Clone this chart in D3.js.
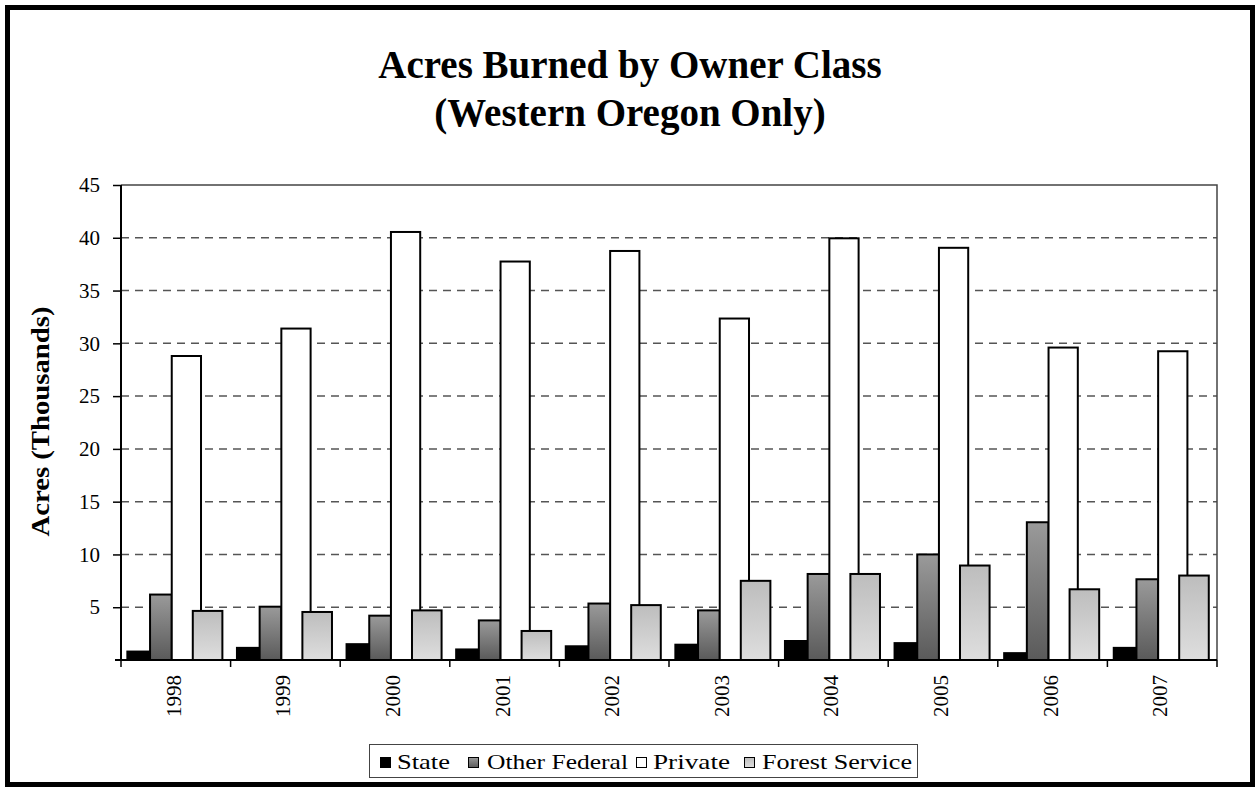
<!DOCTYPE html>
<html lang="en">
<head>
    <meta charset="utf-8">
    <title>Acres Burned by Owner Class</title>
    <style>
        html,body{
            margin:0;
            background:#fff;
            overflow:hidden;
        }
        svg text{
            font-family:"Liberation Serif","Times New Roman",serif;
            fill:#000;
        }
    </style>
</head>
<body>
    <div id="chart"></div>

    <script src="https://cdn.jsdelivr.net/npm/d3@7"></script>
    <script>
    // data (thousands of acres)
    const years = ["1998","1999","2000","2001","2002","2003","2004","2005","2006","2007"];
    const seriesNames = ["State","Other Federal","Private","Forest Service"];
    const state        = [0.8, 1.15, 1.5, 1.0, 1.3, 1.45, 1.8, 1.6, 0.65, 1.15];
    const otherFederal = [6.2, 5.05, 4.2, 3.75, 5.35, 4.7, 8.15, 10.0, 13.05, 7.65];
    const privateLand  = [28.8, 31.4, 40.55, 37.75, 38.75, 32.35, 39.95, 39.05, 29.6, 29.25];
    const forestSvc    = [4.65, 4.55, 4.7, 2.75, 5.2, 7.5, 8.15, 8.95, 6.7, 8.0];
    const yTicks = [0,5,10,15,20,25,30,35,40,45];

    const values = [state, otherFederal, privateLand, forestSvc];

    const width = 1258, height = 789;
    const margin = {left:121, right:41, top:185, bottom:129};

    const svg = d3.select("#chart").append("svg")
        .attr("width", width)
        .attr("height", height);

    // gradients for the shaded bars
    const defs = svg.append("defs");
    function grad(id, top, bottom){
        const g = defs.append("linearGradient").attr("id", id)
            .attr("x1", 0).attr("y1", 0).attr("x2", 0).attr("y2", 1);
        g.append("stop").attr("offset", "0%").attr("stop-color", top);
        g.append("stop").attr("offset", "100%").attr("stop-color", bottom);
    }
    grad("gFed", "#9a9a9a", "#5a5a5a");
    grad("gForest", "#bdbdbd", "#dedede");

    const fills = ["#000", "url(#gFed)", "#fff", "url(#gForest)"];
    // where each bar sits inside its year slot (fraction of band)
    const slot = [[0.058, 0.265], [0.265, 0.463], [0.463, 0.73], [0.655, 0.925]];

    // outer frame
    svg.append("rect")
        .attr("x", 7.5).attr("y", 7.5)
        .attr("width", 1245).attr("height", 777)
        .attr("fill", "#fff")
        .attr("stroke", "#000")
        .attr("stroke-width", 5);

    // title
    svg.append("text")
        .attr("x", 630).attr("y", 78)
        .attr("text-anchor", "middle")
        .style("font-size", "39px").style("font-weight", "bold")
        .text("Acres Burned by Owner Class");
    svg.append("text")
        .attr("x", 630).attr("y", 126)
        .attr("text-anchor", "middle")
        .style("font-size", "39px").style("font-weight", "bold")
        .text("(Western Oregon Only)");

    const x = d3.scaleBand()
        .domain(years)
        .range([margin.left, width - margin.right]);

    const y = d3.scaleLinear()
        .domain([0, 45])
        .range([height - margin.bottom, margin.top]);

    // gridlines
    svg.append("g")
        .selectAll("line")
        .data(yTicks.filter(t => t > 0 && t < 45))
        .enter().append("line")
        .attr("x1", margin.left).attr("x2", width - margin.right)
        .attr("y1", d => y(d)).attr("y2", d => y(d))
        .attr("stroke", "#555")
        .attr("stroke-width", 1.5)
        .attr("stroke-dasharray", "8,6");

    // plot frame top/right
    svg.append("path")
        .attr("d", `M${margin.left},${y(45)}H${width - margin.right}V${y(0)}`)
        .attr("fill", "none")
        .attr("stroke", "#444")
        .attr("stroke-width", 1.5);

    // bars
    seriesNames.forEach((name, si) => {
        svg.append("g")
            .selectAll("rect")
            .data(years)
            .enter().append("rect")
            .attr("x", d => x(d) + slot[si][0] * x.bandwidth())
            .attr("width", (slot[si][1] - slot[si][0]) * x.bandwidth())
            .attr("y", (d, i) => y(values[si][i]))
            .attr("height", (d, i) => y(0) - y(values[si][i]))
            .attr("fill", fills[si])
            .attr("stroke", "#000")
            .attr("stroke-width", 2);
    });

    // y axis
    const yAxis = svg.append("g")
        .attr("transform", `translate(${margin.left},0)`)
        .call(d3.axisLeft(y).tickValues(yTicks.filter(t => t > 0)).tickSize(8).tickPadding(13));
    yAxis.select(".domain").attr("stroke", "#000").attr("stroke-width", 2)
        .attr("d", `M0,${y(45)}V${y(0)}`);
    yAxis.selectAll(".tick line").attr("stroke", "#000").attr("stroke-width", 1.5);
    yAxis.selectAll(".tick text")
        .style("font-size", "21px")
        .style("font-family", "'Liberation Serif', serif");

    // x axis with tick marks between categories
    svg.append("line")
        .attr("x1", margin.left - 6).attr("x2", width - margin.right)
        .attr("y1", y(0)).attr("y2", y(0))
        .attr("stroke", "#000").attr("stroke-width", 2);
    svg.append("g")
        .selectAll("line")
        .data(years.concat(["end"]))
        .enter().append("line")
        .attr("x1", (d, i) => margin.left + i * x.step())
        .attr("x2", (d, i) => margin.left + i * x.step())
        .attr("y1", y(0)).attr("y2", y(0) + 7)
        .attr("stroke", "#000").attr("stroke-width", 1.5);
    svg.append("g")
        .selectAll("text")
        .data(years)
        .enter().append("text")
        .attr("transform", d => `translate(${x(d) + x.bandwidth() / 2 + 5},${y(0) + 15}) rotate(-90)`)
        .attr("text-anchor", "end")
        .style("font-size", "21px")
        .text(d => d);

    // y axis label
    svg.append("text")
        .attr("transform", `translate(49,${(y(0) + y(45)) / 2 - 1}) rotate(-90)`)
        .attr("text-anchor", "middle")
        .attr("textLength", 230)
        .attr("lengthAdjust", "spacingAndGlyphs")
        .style("font-size", "25px").style("font-weight", "bold")
        .text("Acres (Thousands)");

    // legend
    const lg = svg.append("g");
    lg.append("rect")
        .attr("x", 369.5).attr("y", 744.5)
        .attr("width", 548).attr("height", 33)
        .attr("fill", "#fff")
        .attr("stroke", "#444").attr("stroke-width", 1);
    const legendX = [380, 468, 636, 744];
    const legendTextX = [397, 487, 653, 762];
    const legendLen = [53, 141, 77, 150];
    seriesNames.forEach((name, si) => {
        lg.append("rect")
            .attr("x", legendX[si] + 0.5).attr("y", 757.5)
            .attr("width", 10).attr("height", 10)
            .attr("fill", fills[si])
            .attr("stroke", "#000").attr("stroke-width", 1);
        lg.append("text")
            .attr("x", legendTextX[si]).attr("y", 769)
            .attr("textLength", legendLen[si])
            .attr("lengthAdjust", "spacingAndGlyphs")
            .style("font-size", "21px")
            .text(name);
    });
    </script>
</body>
</html>
